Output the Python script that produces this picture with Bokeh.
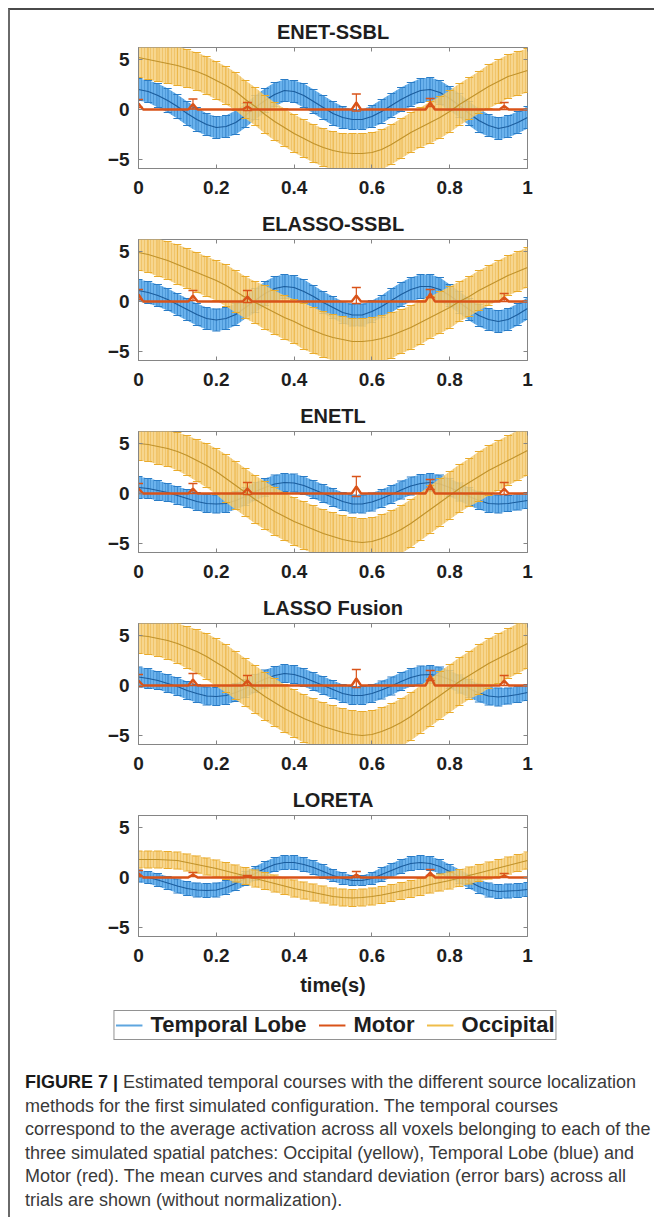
import numpy as np
from bokeh.plotting import figure
from bokeh.models import (Range1d, FixedTicker, NumeralTickFormatter, LinearAxis,
                          Legend, LegendItem, Div, CustomJSTickFormatter)
from bokeh.layouts import column
from bokeh.embed import file_html
from bokeh.resources import INLINE

# ---------------- data ----------------
time_s = [0.0, 0.025, 0.05, 0.075, 0.1, 0.125, 0.15, 0.175, 0.2, 0.225,
          0.25, 0.275, 0.3, 0.325, 0.35, 0.375, 0.4, 0.425, 0.45, 0.475,
          0.5, 0.525, 0.55, 0.575, 0.6, 0.625, 0.65, 0.675, 0.7, 0.725,
          0.75, 0.775, 0.8, 0.825, 0.85, 0.875, 0.9, 0.925, 0.95, 0.975, 1.0]

motor_time = [0.0, 0.012, 0.128, 0.14, 0.152, 0.268, 0.28, 0.292, 0.548, 0.56,
              0.572, 0.738, 0.75, 0.762, 0.928, 0.94, 0.952, 1.0]

titles = ["ENET-SSBL", "ELASSO-SSBL", "ENETL", "LASSO Fusion", "LORETA"]
x_ticks = [0, 0.2, 0.4, 0.6, 0.8, 1]
y_ticks = [-5, 0, 5]
legend_labels = ["Temporal Lobe", "Motor", "Occipital"]

# ENET-SSBL
enet_ssbl_temporal = [2.0, 1.8, 1.4, 0.9, 0.3, -0.4, -1.0, -1.5, -1.8, -1.7,
                      -1.3, -0.6, 0.2, 0.9, 1.5, 1.9, 1.8, 1.4, 0.8, 0.2,
                      -0.4, -0.8, -1.0, -1.0, -0.7, -0.2, 0.4, 1.0, 1.5, 1.9,
                      2.0, 1.7, 1.1, 0.4, -0.4, -1.1, -1.6, -1.9, -1.7, -1.3, -0.8]
enet_ssbl_temporal_sd = [1.1, 1.1, 1.2, 1.2, 1.2, 1.2, 1.2, 1.1, 1.1, 1.1,
                         1.2, 1.2, 1.2, 1.2, 1.2, 1.1, 1.1, 1.2, 1.2, 1.2,
                         1.2, 1.1, 1.0, 1.0, 1.1, 1.2, 1.2, 1.2, 1.2, 1.2,
                         1.2, 1.2, 1.2, 1.2, 1.2, 1.2, 1.1, 1.1, 1.1, 1.1, 1.1]
enet_ssbl_occipital = [5.2, 5.0, 4.8, 4.6, 4.4, 4.1, 3.8, 3.4, 2.9, 2.4,
                       1.8, 1.0, 0.3, -0.5, -1.2, -1.8, -2.4, -2.9, -3.4, -3.8,
                       -4.1, -4.3, -4.4, -4.4, -4.3, -4.0, -3.5, -2.9, -2.3, -1.8,
                       -1.3, -0.8, -0.2, 0.5, 1.1, 1.7, 2.3, 2.8, 3.3, 3.6, 3.9]
enet_ssbl_occipital_sd = [2.0, 2.0, 2.0, 2.0, 2.0, 1.9, 1.9, 1.9, 1.9, 1.9,
                          1.9, 1.9, 1.9, 1.9, 1.9, 1.9, 1.9, 1.9, 1.9, 1.9,
                          1.9, 1.9, 2.0, 2.0, 2.0, 2.0, 2.0, 2.0, 2.0, 2.0,
                          2.1, 2.1, 2.1, 2.1, 2.1, 2.1, 2.2, 2.2, 2.2, 2.2, 2.2]
enet_ssbl_motor = [0.6, 0, 0, 0.55, 0, 0, 0.3, 0, 0, 0.7, 0, 0, 0.7, 0, 0, 0.35, 0, 0]
enet_ssbl_motor_sd = [0.4, 0, 0, 0.5, 0, 0, 0.4, 0, 0, 0.85, 0, 0, 0.4, 0, 0, 0.35, 0, 0]

# ELASSO-SSBL
elasso_ssbl_temporal = [1.1, 0.9, 0.6, 0.2, -0.3, -0.8, -1.3, -1.7, -1.85, -1.7,
                        -1.3, -0.6, 0.1, 0.8, 1.3, 1.5, 1.4, 1.0, 0.5, -0.1,
                        -0.6, -1.1, -1.35, -1.35, -1.0, -0.5, 0.1, 0.7, 1.2, 1.5,
                        1.5, 1.2, 0.6, -0.1, -0.8, -1.4, -1.8, -2.0, -1.8, -1.3, -0.7]
elasso_ssbl_temporal_sd = [1.1, 1.1, 1.1, 1.1, 1.1, 1.1, 1.1, 1.1, 1.1, 1.1,
                           1.1, 1.1, 1.2, 1.2, 1.2, 1.2, 1.2, 1.2, 1.1, 1.1,
                           1.1, 1.1, 1.1, 1.1, 1.1, 1.1, 1.2, 1.2, 1.2, 1.2,
                           1.2, 1.2, 1.1, 1.1, 1.1, 1.1, 1.1, 1.1, 1.1, 1.1, 1.1]
elasso_ssbl_occipital = [4.9, 4.7, 4.4, 4.1, 3.7, 3.3, 2.9, 2.5, 2.1, 1.6,
                         1.0, 0.4, -0.1, -0.6, -1.1, -1.6, -2.0, -2.5, -2.9, -3.3,
                         -3.6, -3.8, -4.0, -4.0, -3.9, -3.7, -3.4, -3.0, -2.6, -2.1,
                         -1.6, -1.1, -0.6, 0.0, 0.5, 1.1, 1.6, 2.1, 2.6, 3.0, 3.4]
elasso_ssbl_occipital_sd = [1.8, 1.8, 1.9, 1.9, 2.0, 2.0, 2.0, 2.0, 2.0, 2.1,
                            2.1, 2.1, 2.1, 2.2, 2.2, 2.2, 2.2, 2.3, 2.3, 2.3,
                            2.3, 2.3, 2.3, 2.3, 2.3, 2.3, 2.3, 2.2, 2.2, 2.2,
                            2.1, 2.1, 2.1, 2.0, 2.0, 2.0, 2.0, 2.0, 2.0, 2.0, 2.0]
elasso_ssbl_motor = [0.7, 0, 0, 0.6, 0, 0, 0.5, 0, 0, 0.6, 0, 0, 0.8, 0, 0, 0.4, 0, 0]
elasso_ssbl_motor_sd = [0.5, 0, 0, 0.5, 0, 0, 0.6, 0, 0, 0.8, 0, 0, 0.4, 0, 0, 0.4, 0, 0]

# ENETL
enetl_temporal = [0.6, 0.5, 0.3, 0.1, -0.2, -0.5, -0.8, -1.0, -1.05, -1.0,
                  -0.7, -0.3, 0.2, 0.6, 0.95, 1.1, 1.05, 0.8, 0.4, 0.0,
                  -0.4, -0.8, -1.05, -1.05, -0.85, -0.5, -0.1, 0.35, 0.75, 1.0,
                  1.1, 0.95, 0.6, 0.15, -0.3, -0.7, -1.0, -1.05, -1.0, -0.85, -0.7]
enetl_temporal_sd = [1.1, 1.0, 1.0, 0.9, 0.9, 0.9, 0.9, 0.9, 0.9, 0.9,
                     0.9, 0.9, 0.9, 0.9, 0.9, 0.9, 0.9, 0.9, 0.9, 0.9,
                     0.9, 0.9, 0.9, 0.9, 0.9, 0.9, 0.9, 0.9, 0.9, 0.9,
                     0.9, 0.9, 0.9, 0.9, 0.9, 0.9, 0.9, 0.9, 0.8, 0.8, 0.8]
enetl_occipital = [5.0, 4.9, 4.7, 4.5, 4.2, 3.8, 3.3, 2.8, 2.2, 1.5,
                   0.8, 0.1, -0.6, -1.2, -1.8, -2.3, -2.8, -3.2, -3.6, -4.0,
                   -4.3, -4.6, -4.8, -4.9, -4.8, -4.5, -4.1, -3.6, -3.0, -2.3,
                   -1.6, -0.9, -0.2, 0.5, 1.1, 1.7, 2.3, 2.8, 3.3, 3.8, 4.3]
enetl_occipital_sd = [1.7, 1.7, 1.8, 1.8, 1.9, 2.0, 2.1, 2.2, 2.3, 2.4,
                      2.4, 2.4, 2.4, 2.4, 2.4, 2.4, 2.4, 2.4, 2.4, 2.4,
                      2.4, 2.4, 2.4, 2.4, 2.4, 2.4, 2.4, 2.4, 2.4, 2.4,
                      2.4, 2.4, 2.4, 2.4, 2.4, 2.5, 2.5, 2.5, 2.5, 2.5, 2.5]
enetl_motor = [0.5, 0, 0, 0.5, 0, 0, 0.5, 0, 0, 0.7, 0, 0, 0.9, 0, 0, 0.5, 0, 0]
enetl_motor_sd = [0.5, 0, 0, 0.5, 0, 0, 0.6, 0, 0, 1.0, 0, 0, 0.5, 0, 0, 0.6, 0, 0]

# LASSO Fusion
lasso_fusion_temporal = [0.85, 0.7, 0.5, 0.2, -0.1, -0.5, -0.8, -1.05, -1.1, -1.0,
                         -0.7, -0.3, 0.2, 0.65, 1.0, 1.2, 1.1, 0.8, 0.4, 0.0,
                         -0.4, -0.8, -1.0, -1.0, -0.8, -0.45, -0.05, 0.4, 0.8, 1.05,
                         1.1, 0.95, 0.6, 0.15, -0.3, -0.75, -1.05, -1.15, -1.05, -0.9, -0.7]
lasso_fusion_temporal_sd = [1.0, 1.0, 0.9, 0.9, 0.9, 0.9, 0.9, 0.9, 0.9, 0.9,
                            0.9, 0.9, 0.9, 0.9, 0.9, 0.9, 0.9, 0.9, 0.9, 0.9,
                            0.9, 0.9, 0.9, 0.9, 0.9, 0.9, 0.9, 0.9, 0.9, 0.9,
                            0.9, 0.9, 0.9, 0.9, 0.9, 0.9, 0.9, 0.9, 0.8, 0.8, 0.8]
lasso_fusion_occipital = [5.0, 4.9, 4.7, 4.5, 4.2, 3.8, 3.4, 2.9, 2.3, 1.7,
                          1.0, 0.3, -0.4, -1.1, -1.7, -2.3, -2.8, -3.3, -3.7, -4.1,
                          -4.4, -4.7, -4.9, -5.0, -4.9, -4.6, -4.2, -3.7, -3.1, -2.4,
                          -1.7, -1.0, -0.3, 0.4, 1.0, 1.6, 2.2, 2.7, 3.2, 3.7, 4.2]
lasso_fusion_occipital_sd = [1.8, 1.8, 1.8, 1.9, 2.0, 2.1, 2.2, 2.3, 2.4, 2.4,
                             2.4, 2.4, 2.4, 2.4, 2.4, 2.4, 2.4, 2.4, 2.4, 2.4,
                             2.4, 2.4, 2.4, 2.4, 2.4, 2.4, 2.4, 2.4, 2.4, 2.4,
                             2.4, 2.4, 2.4, 2.4, 2.4, 2.5, 2.5, 2.5, 2.5, 2.5, 2.5]
lasso_fusion_motor = [0.5, 0, 0, 0.6, 0, 0, 0.5, 0, 0, 0.7, 0, 0, 1.0, 0, 0, 0.5, 0, 0]
lasso_fusion_motor_sd = [0.6, 0, 0, 0.6, 0, 0, 0.5, 0, 0, 0.9, 0, 0, 0.5, 0, 0, 0.5, 0, 0]

# LORETA
loreta_temporal = [0.15, 0.0, -0.25, -0.55, -0.85, -1.1, -1.25, -1.3, -1.25, -1.0,
                   -0.6, -0.1, 0.4, 0.9, 1.3, 1.5, 1.5, 1.3, 1.0, 0.6,
                   0.2, -0.1, -0.3, -0.3, -0.1, 0.3, 0.7, 1.1, 1.4, 1.5,
                   1.4, 1.1, 0.6, 0.1, -0.4, -0.9, -1.25, -1.4, -1.35, -1.3, -1.2]
loreta_temporal_sd = [0.6, 0.6, 0.65, 0.65, 0.7, 0.7, 0.7, 0.7, 0.7, 0.7,
                      0.7, 0.7, 0.7, 0.7, 0.7, 0.7, 0.7, 0.7, 0.7, 0.7,
                      0.6, 0.6, 0.5, 0.5, 0.6, 0.7, 0.7, 0.7, 0.7, 0.7,
                      0.7, 0.7, 0.7, 0.7, 0.7, 0.7, 0.7, 0.7, 0.7, 0.7, 0.7]
loreta_occipital = [1.8, 1.8, 1.8, 1.75, 1.7, 1.5, 1.3, 1.1, 0.9, 0.65,
                    0.4, 0.15, -0.1, -0.35, -0.6, -0.85, -1.1, -1.3, -1.5, -1.7,
                    -1.9, -2.0, -2.05, -2.0, -1.9, -1.75, -1.55, -1.35, -1.15, -0.95,
                    -0.7, -0.5, -0.3, -0.05, 0.2, 0.45, 0.7, 0.95, 1.2, 1.45, 1.7]
loreta_occipital_sd = [0.85, 0.85, 0.85, 0.85, 0.85, 0.85, 0.85, 0.85, 0.85, 0.85,
                       0.85, 0.85, 0.85, 0.85, 0.85, 0.85, 0.85, 0.85, 0.85, 0.85,
                       0.85, 0.85, 0.85, 0.85, 0.85, 0.85, 0.85, 0.85, 0.85, 0.85,
                       0.85, 0.85, 0.85, 0.85, 0.85, 0.85, 0.85, 0.85, 0.85, 0.85, 0.85]
loreta_motor = [0.4, 0, 0, 0.3, 0, 0, 0.1, 0, 0, 0.3, 0, 0, 0.5, 0, 0, 0.2, 0, 0]
loreta_motor_sd = [0.3, 0, 0, 0.2, 0, 0, 0.1, 0, 0, 0.3, 0, 0, 0.3, 0, 0, 0.2, 0, 0]

caption_lines = [
    "Estimated temporal courses with the different source localization",
    "methods for the first simulated configuration. The temporal courses",
    "correspond to the average activation across all voxels belonging to each of the",
    "three simulated spatial patches: Occipital (yellow), Temporal Lobe (blue) and",
    "Motor (red). The mean curves and standard deviation (error bars) across all",
    "trials are shown (without normalization).",
]

panels = [
    (titles[0], enet_ssbl_temporal, enet_ssbl_temporal_sd, enet_ssbl_occipital, enet_ssbl_occipital_sd, enet_ssbl_motor, enet_ssbl_motor_sd),
    (titles[1], elasso_ssbl_temporal, elasso_ssbl_temporal_sd, elasso_ssbl_occipital, elasso_ssbl_occipital_sd, elasso_ssbl_motor, elasso_ssbl_motor_sd),
    (titles[2], enetl_temporal, enetl_temporal_sd, enetl_occipital, enetl_occipital_sd, enetl_motor, enetl_motor_sd),
    (titles[3], lasso_fusion_temporal, lasso_fusion_temporal_sd, lasso_fusion_occipital, lasso_fusion_occipital_sd, lasso_fusion_motor, lasso_fusion_motor_sd),
    (titles[4], loreta_temporal, loreta_temporal_sd, loreta_occipital, loreta_occipital_sd, loreta_motor, loreta_motor_sd),
]

# ---------------- styling ----------------
FONT = "Liberation Sans"
AX = "#858585"
TXT = "#1e1e1e"
BLUE_FILL, BLUE_HATCH, BLUE_BAR, BLUE_MEAN = "#62aeec", "#1c6db5", "#2a7cc6", "#1b5c9c"
YEL_FILL, YEL_HATCH, YEL_BAR, YEL_MEAN = "#f6cf7a", "#e3a427", "#e9ab2c", "#c0922a"
RED = "#d95319"
LEG_BLUE, LEG_YEL = "#5ea6df", "#efbd4a"

W = 640
TOP, FRAME_H, LEFT, RIGHT = 37, 121, 128, 123


def draw_series(p, t, m, sd, fill, hatch, bar, mean_col, fill_alpha):
    t = np.asarray(t, float)
    m = np.asarray(m, float)
    sd = np.asarray(sd, float)
    lo, hi = m - sd, m + sd
    p.varea(x=t, y1=lo, y2=hi, fill_color=fill, fill_alpha=fill_alpha,
            hatch_pattern="vertical_line", hatch_color=hatch, hatch_alpha=0.35,
            hatch_scale=3, hatch_weight=1)
    p.segment(x0=t, y0=lo, x1=t, y1=hi, line_color=bar, line_width=1, line_alpha=0.55)
    p.scatter(x=t, y=hi, marker="dash", size=8, line_color=bar, line_width=1.2)
    p.scatter(x=t, y=lo, marker="dash", size=8, line_color=bar, line_width=1.2)
    p.line(x=t, y=m, line_color=mean_col, line_width=1.1)


figs = []
for i, (title, tm, tsd, om, osd, rm, rsd) in enumerate(panels):
    last = i == len(panels) - 1
    h = 228 if last else 192
    p = figure(width=W, height=h, x_range=Range1d(0, 1), y_range=Range1d(-5.9, 6.2),
               output_backend="svg", toolbar_location=None, tools="",
               min_border_left=LEFT, min_border_right=RIGHT,
               min_border_top=TOP, min_border_bottom=h - TOP - FRAME_H)
    p.title.text = title
    p.title.align = "center"
    p.title.text_font = FONT
    p.title.text_font_size = "20px"
    p.title.text_font_style = "bold"
    p.title.text_color = TXT
    p.title.standoff = 9
    p.outline_line_color = AX
    p.outline_line_width = 1
    p.grid.visible = False
    p.background_fill_color = "white"
    p.border_fill_color = "white"

    xax = p.below[0]
    yax = p.left[0]
    for ax in (xax, yax):
        ax.major_tick_in = 4
        ax.major_tick_out = 0
        ax.minor_tick_line_color = None
        ax.axis_line_color = AX
        ax.major_tick_line_color = AX
        ax.major_label_text_font = FONT
        ax.major_label_text_font_size = "19px"
        ax.major_label_text_font_style = "bold"
        ax.major_label_text_color = TXT
    xax.ticker = FixedTicker(ticks=x_ticks)
    xax.formatter = NumeralTickFormatter(format="0.[0]")
    xax.major_label_standoff = 12
    yax.ticker = FixedTicker(ticks=y_ticks)
    yax.major_label_standoff = 9

    blank = CustomJSTickFormatter(code="return ''")
    top_ax = LinearAxis(ticker=FixedTicker(ticks=x_ticks), formatter=blank,
                        major_tick_in=4, major_tick_out=0, major_label_standoff=0,
                        major_label_text_color=None,
                        minor_tick_line_color=None, axis_line_color=None,
                        major_tick_line_color=AX)
    right_ax = LinearAxis(ticker=FixedTicker(ticks=y_ticks), formatter=blank,
                          major_tick_in=4, major_tick_out=0, major_label_standoff=0,
                          major_label_text_color=None,
                          minor_tick_line_color=None, axis_line_color=None,
                          major_tick_line_color=AX)
    p.add_layout(top_ax, "above")
    p.add_layout(right_ax, "right")

    # Temporal lobe (blue), Occipital (yellow), Motor (red)
    draw_series(p, time_s, tm, tsd, BLUE_FILL, BLUE_HATCH, BLUE_BAR, BLUE_MEAN, 0.95)
    draw_series(p, time_s, om, osd, YEL_FILL, YEL_HATCH, YEL_BAR, YEL_MEAN, 0.85)

    rt = np.asarray(motor_time, float)
    rmv = np.asarray(rm, float)
    rsv = np.asarray(rsd, float)
    p.line(x=rt, y=rmv, line_color=RED, line_width=2.4)
    k = rsv > 0
    p.segment(x0=rt[k], y0=(rmv - rsv)[k], x1=rt[k], y1=(rmv + rsv)[k], line_color=RED, line_width=1.2)
    p.scatter(x=rt[k], y=(rmv + rsv)[k], marker="dash", size=9, line_color=RED, line_width=1.4)
    p.scatter(x=rt[k], y=(rmv - rsv)[k], marker="dash", size=9, line_color=RED, line_width=1.4)

    if last:
        xax.axis_label = "time(s)"
        xax.axis_label_text_font = FONT
        xax.axis_label_text_font_size = "20px"
        xax.axis_label_text_font_style = "bold"
        xax.axis_label_text_color = TXT
        xax.axis_label_standoff = 9
    figs.append(p)

# legend strip: the series are plotted again on a range where they stay hidden,
# only their legend glyphs are shown
lf = figure(width=W, height=38, x_range=Range1d(0, 1), y_range=Range1d(100, 101),
            output_backend="svg", toolbar_location=None, tools="",
            min_border_left=10, min_border_right=0, min_border_top=0, min_border_bottom=0)
lf.axis.visible = False
lf.grid.visible = False
lf.outline_line_color = None
lb = lf.line(x=time_s, y=loreta_temporal, line_color=LEG_BLUE, line_width=2)
lr = lf.line(x=motor_time, y=loreta_motor, line_color=RED, line_width=2)
ly = lf.line(x=time_s, y=loreta_occipital, line_color=LEG_YEL, line_width=2)
leg = Legend(items=[LegendItem(label=legend_labels[0], renderers=[lb]),
                    LegendItem(label=legend_labels[1], renderers=[lr]),
                    LegendItem(label=legend_labels[2], renderers=[ly])],
             orientation="horizontal", location="center",
             border_line_color="#262626", border_line_width=1,
             background_fill_color="white", background_fill_alpha=1,
             label_text_font=FONT, label_text_font_size="22px",
             label_text_font_style="bold", label_text_color=TXT,
             label_standoff=8, spacing=12, glyph_width=27, glyph_height=20,
             label_height=20, padding=1, margin=0)
lf.add_layout(leg)

caption_html = (
    "<div style=\"font-family:'Liberation Sans',Arial,sans-serif;font-size:18px;"
    "line-height:23.5px;color:#3a3a3a;white-space:nowrap;padding-left:10px;margin-top:22px;\">"
    "<b style='color:#1a1a1a'>FIGURE 7 |</b> " + caption_lines[0] + "<br>"
    + "<br>".join(caption_lines[1:]) + "</div>"
)
caption = Div(text=caption_html, width=W)

plots = column(*figs)
layout = column(plots, lf, caption,
                styles={"margin-left": "8px", "margin-top": "8px",
                        "border-left": "2px solid #6a6a6a", "border-top": "2px solid #4a4a4a"})

open("out.html", "w").write(file_html(layout, INLINE))
